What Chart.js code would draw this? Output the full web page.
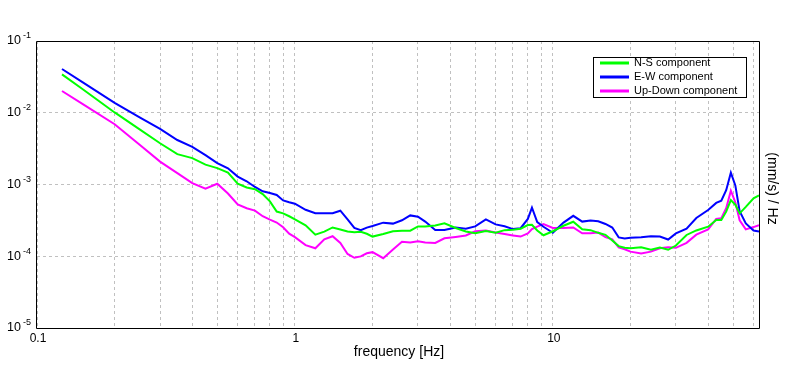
<!DOCTYPE html>
<html><head><meta charset="utf-8">
<script src="https://cdn.jsdelivr.net/npm/chart.js@4/dist/chart.umd.min.js"></script>
<style>html,body{margin:0;padding:0;background:#fff}#wrap{width:796px;height:370px}</style>
</head><body><div id="wrap"><canvas id="c" width="796" height="370"></canvas></div>
<script>
const frequencies = [0.125,0.15,0.2,0.25,0.3,0.35,0.4,0.45,0.5,0.55,0.6,0.65,0.7,0.75,0.8,0.85,0.9,0.95,
  1.0,1.1,1.2,1.3,1.4,1.5,1.6,1.7,1.8,1.9,2.0,2.2,2.4,2.6,2.8,3.0,3.2,3.5,3.8,4.2,4.6,5.0,5.5,6.0,6.5,7.0,7.5,8.0,8.3,8.7,9.2,
  10,11,12,13,14,15,16,17,18,19,20,22,24,26,28,30,33,36,40,43,45,47,49,51,53,56,60,63];
const nsComponent = [0.0343,0.0214,0.0101,0.00586,0.00376,0.00265,0.00233,0.00189,0.00169,0.00147,0.00103,9.08e-4,8.60e-4,7.35e-4,5.81e-4,4.20e-4,3.96e-4,3.61e-4,
  3.27e-4,2.70e-4,2.00e-4,2.20e-4,2.52e-4,2.36e-4,2.22e-4,2.16e-4,2.19e-4,2.06e-4,1.88e-4,2.04e-4,2.23e-4,2.27e-4,2.27e-4,2.60e-4,2.59e-4,2.69e-4,2.87e-4,2.48e-4,2.21e-4,2.09e-4,2.24e-4,2.13e-4,2.31e-4,2.34e-4,2.42e-4,2.72e-4,2.75e-4,2.29e-4,1.96e-4,
  2.23e-4,2.66e-4,3.03e-4,2.37e-4,2.31e-4,2.12e-4,1.99e-4,1.66e-4,1.385e-4,1.31e-4,1.29e-4,1.33e-4,1.23e-4,1.32e-4,1.23e-4,1.41e-4,1.98e-4,2.29e-4,2.58e-4,3.20e-4,3.20e-4,4.18e-4,6.08e-4,5.23e-4,3.96e-4,4.87e-4,6.42e-4,7.03e-4];
const ewComponent = [0.0407,0.0267,0.0137,0.00864,0.00594,0.00417,0.00335,0.00256,0.00199,0.00168,0.00129,0.00111,9.23e-4,8.04e-4,7.61e-4,7.14e-4,6.00e-4,5.67e-4,
  5.40e-4,4.44e-4,3.97e-4,3.97e-4,3.97e-4,4.31e-4,3.26e-4,2.48e-4,2.31e-4,2.51e-4,2.64e-4,2.94e-4,2.85e-4,3.17e-4,3.71e-4,3.56e-4,3.04e-4,2.32e-4,2.32e-4,2.51e-4,2.41e-4,2.61e-4,3.27e-4,2.78e-4,2.62e-4,2.39e-4,2.46e-4,3.31e-4,4.75e-4,3.00e-4,2.58e-4,
  2.12e-4,2.94e-4,3.66e-4,3.04e-4,3.14e-4,3.07e-4,2.82e-4,2.51e-4,1.83e-4,1.77e-4,1.81e-4,1.84e-4,1.90e-4,1.88e-4,1.71e-4,2.08e-4,2.43e-4,3.41e-4,4.40e-4,5.54e-4,5.93e-4,8.33e-4,1.46e-3,9.72e-4,4.25e-4,2.87e-4,2.28e-4,2.21e-4];
const udComponent = [0.0201,0.01333,0.00692,0.003575,0.002085,0.001441,0.001046,8.74e-4,1.023e-3,7.49e-4,5.26e-4,4.66e-4,4.33e-4,3.61e-4,3.24e-4,2.95e-4,2.54e-4,2.06e-4,
  1.85e-4,1.43e-4,1.29e-4,1.72e-4,1.90e-4,1.53e-4,1.075e-4,9.52e-5,9.95e-5,1.10e-4,1.14e-4,9.39e-5,1.24e-4,1.59e-4,1.56e-4,1.62e-4,1.55e-4,1.53e-4,1.78e-4,1.86e-4,1.95e-4,2.23e-4,2.28e-4,2.14e-4,2.04e-4,1.95e-4,1.88e-4,2.08e-4,2.39e-4,2.59e-4,2.80e-4,
  2.48e-4,2.48e-4,2.52e-4,2.09e-4,2.09e-4,2.14e-4,1.85e-4,1.72e-4,1.33e-4,1.25e-4,1.16e-4,1.09e-4,1.16e-4,1.29e-4,1.33e-4,1.31e-4,1.54e-4,2.00e-4,2.37e-4,3.32e-4,3.40e-4,4.66e-4,8.20e-4,5.67e-4,3.17e-4,2.37e-4,2.55e-4,2.71e-4];
const seriesNames = ['N-S component','E-W component','Up-Down component'];
const seriesColors = ['#00ff00','#0000ff','#ff00ff'];
const xGridTicks = [0.1,0.2,0.3,0.4,0.5,0.6,0.7,0.8,0.9,1,2,3,4,5,6,7,8,9,10,20,30,40,50,60];
const xLabelTicks = [0.1,1,10];
const xLabelTexts = ['0.1','1','10'];
const yTicks = [1e-5,1e-4,1e-3,1e-2,1e-1];
const yExponents = ['-5','-4','-3','-2','-1'];
const xRange = [0.1, 63];
const yRange = [1e-5, 1e-1];
const xTitle = 'frequency [Hz]';
const yTitle = '(mm/s) / Hz';

const FONT = '"Liberation Sans", Arial, sans-serif';
const seriesValues = [nsComponent, ewComponent, udComponent];

const decorPlugin = {
  id: 'decor',
  afterDatasetsDraw(chart) {
    const ctx = chart.ctx, ca = chart.chartArea;
    const xs = chart.scales.x, ys = chart.scales.y;
    ctx.save();
    // frame
    ctx.strokeStyle = '#000'; ctx.lineWidth = 1;
    ctx.beginPath();
    ctx.moveTo(ca.left - 0.5, ca.top + 0.5);
    ctx.lineTo(ca.right + 0.5, ca.top + 0.5);
    ctx.lineTo(ca.right + 0.5, ca.bottom + 0.5);
    ctx.lineTo(ca.left - 0.5, ca.bottom + 0.5);
    ctx.closePath();
    ctx.stroke();
    // x tick labels
    ctx.fillStyle = '#000';
    ctx.font = '12px ' + FONT;
    ctx.textAlign = 'center'; ctx.textBaseline = 'middle';
    xLabelTicks.forEach((v, i) => {
      ctx.fillText(xLabelTexts[i], xs.getPixelForValue(v) + 1, ca.bottom + 11);
    });
    // y tick labels 10^n
    yTicks.forEach((v, i) => {
      const y = ys.getPixelForValue(v);
      ctx.font = '9px ' + FONT;
      ctx.textAlign = 'right'; ctx.textBaseline = 'middle';
      const ew = ctx.measureText(yExponents[i]).width;
      ctx.fillText(yExponents[i], ca.left - 6, y - 5);
      ctx.font = '12.5px ' + FONT;
      ctx.fillText('10', ca.left - 6 - ew - 2, y);
    });
    // titles
    ctx.font = '14px ' + FONT;
    ctx.textAlign = 'center'; ctx.textBaseline = 'middle';
    ctx.fillText(xTitle, (ca.left + ca.right) / 2 + 1, ca.bottom + 24);
    ctx.save();
    ctx.translate(ca.right + 13, (ca.top + ca.bottom) / 2 + 4);
    ctx.rotate(Math.PI / 2);
    ctx.font = '14px ' + FONT;
    ctx.fillText(yTitle, 0, 0);
    ctx.restore();
    // legend
    const bx = ca.right - 166, by = ca.top + 16, bw = 153, bh = 40;
    ctx.fillStyle = '#fff';
    ctx.fillRect(bx, by, bw, bh);
    ctx.strokeStyle = '#000';
    ctx.strokeRect(bx + 0.5, by + 0.5, bw, bh);
    ctx.font = '11px ' + FONT;
    ctx.textAlign = 'left'; ctx.textBaseline = 'middle';
    chart.data.datasets.forEach((ds, i) => {
      const ry = by + 6 + i * 14;
      ctx.strokeStyle = ds.borderColor; ctx.lineWidth = 3;
      ctx.beginPath(); ctx.moveTo(bx + 7, ry); ctx.lineTo(bx + 36, ry); ctx.stroke();
      ctx.fillStyle = '#000';
      ctx.fillText(ds.label, bx + 41, ry);
    });
    ctx.restore();
  }
};

new Chart(document.getElementById('c').getContext('2d'), {
  type: 'line',
  data: {
    datasets: seriesNames.map((name, i) => ({
      label: name,
      data: frequencies.map((f, k) => ({ x: f, y: seriesValues[i][k] })),
      borderColor: seriesColors[i],
      backgroundColor: seriesColors[i],
      borderWidth: 2,
      pointRadius: 0,
      tension: 0,
      fill: false
    }))
  },
  options: {
    responsive: false,
    animation: false,
    devicePixelRatio: 1,
    layout: { padding: { top: 41, right: 37, left: 0, bottom: 0 } },
    plugins: { legend: { display: false }, tooltip: { enabled: false } },
    scales: {
      x: {
        type: 'logarithmic', min: xRange[0], max: xRange[1],
        afterBuildTicks: s => { s.ticks = xGridTicks.map(v => ({ value: v })); },
        afterFit: s => { s.height = 42; },
        ticks: { display: false },
        grid: { color: '#c0c0c0', lineWidth: 1, drawTicks: false },
        border: { display: false, dash: [3, 3] }
      },
      y: {
        type: 'logarithmic', min: yRange[0], max: yRange[1],
        afterBuildTicks: s => { s.ticks = yTicks.map(v => ({ value: v })); },
        afterFit: s => { s.width = 37; },
        ticks: { display: false },
        grid: { color: '#c0c0c0', lineWidth: 1, drawTicks: false },
        border: { display: false, dash: [3, 3] }
      }
    }
  },
  plugins: [decorPlugin]
});
</script>
</body></html>
